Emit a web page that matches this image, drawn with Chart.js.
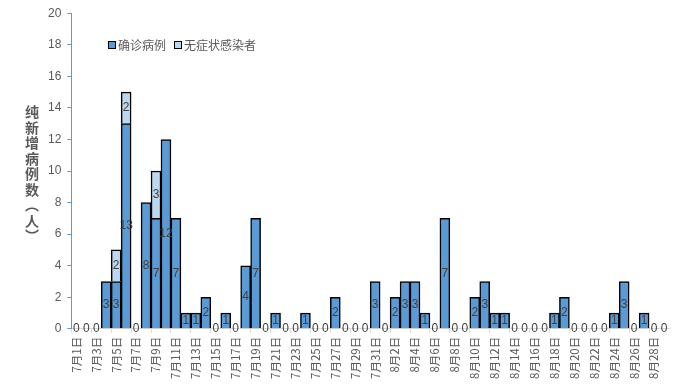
<!DOCTYPE html>
<html>
<head>
<meta charset="utf-8">
<script src="https://cdn.jsdelivr.net/npm/chart.js@4/dist/chart.umd.min.js"></script>
<style>
  body { margin: 0; background: #fff; }
  #wrap { width: 685px; height: 390px; position: relative; }
</style>
</head>
<body>
<div id="wrap"><canvas id="myChart"></canvas></div>
<script>
// 日期 7月1日 - 8月29日
const dias = [];
for (let d = 1; d <= 31; d++) dias.push('7月' + d + '日');
for (let d = 1; d <= 29; d++) dias.push('8月' + d + '日');

const confirmados = [
    0, 0, 0, 3, 3, 13, 0, 8, 7, 12,
    7, 1, 1, 2, 0, 1, 0, 4, 7, 0,
    1, 0, 0, 1, 0, 0, 2, 0, 0, 0,
    3,
    0, 2, 3, 3, 1, 0, 7, 0, 0, 2,
    3, 1, 1, 0, 0, 0, 0, 1, 2, 0,
    0, 0, 0, 1, 3, 0, 1, 0, 0
];
const assintomaticos = [
    0, 0, 0, 0, 2, 2, 0, 0, 3, 0,
    0, 0, 0, 0, 0, 0, 0, 0, 0, 0,
    0, 0, 0, 0, 0, 0, 0, 0, 0, 0,
    0,
    0, 0, 0, 0, 0, 0, 0, 0, 0, 0,
    0, 0, 0, 0, 0, 0, 0, 0, 0, 0,
    0, 0, 0, 0, 0, 0, 0, 0, 0, 0
];
const nomesSeries = ['确诊病例', '无症状感染者'];
const coresSeries = ['#5B9BD5', '#BDD7EE'];
const tituloY = ['纯', '新', '增', '病', '例', '数', '︵', '人', '︶'];

const fonteNum = '"Liberation Sans", "Noto Sans", sans-serif';
const fonteCJK = '"Noto Sans CJK SC", sans-serif';

// rótulos dentro das barras
const rotulos = {
    id: 'rotulos',
    afterDatasetsDraw(chart) {
        const ctx = chart.ctx;
        ctx.save();
        ctx.font = '12px ' + fonteNum;
        ctx.fillStyle = '#404040';
        ctx.textAlign = 'center';
        ctx.textBaseline = 'middle';
        chart.data.datasets.forEach((ds, i) => {
            const meta = chart.getDatasetMeta(i);
            meta.data.forEach((bar, j) => {
                const v = ds.data[j];
                if (i === 1 && v === 0) return;
                const y = (bar.y + bar.base) / 2;
                ctx.fillText(String(v), bar.x, y);
            });
        });
        ctx.restore();
    }
};

// legenda dentro da área e título vertical
const extras = {
    id: 'extras',
    afterDraw(chart) {
        const ctx = chart.ctx;
        ctx.save();
        ctx.font = '12px ' + fonteCJK;
        ctx.textBaseline = 'middle';
        let x = 108;
        const y = 45;
        nomesSeries.forEach((nome, i) => {
            ctx.fillStyle = coresSeries[i];
            ctx.fillRect(x, y - 4, 8, 8);
            ctx.strokeStyle = '#000';
            ctx.lineWidth = 1;
            ctx.strokeRect(x + 0.5, y - 3.5, 7, 7);
            ctx.fillStyle = '#595959';
            ctx.textAlign = 'left';
            ctx.fillText(nome, x + 10, y);
            x += 10 + ctx.measureText(nome).width + 8;
        });

        ctx.font = 'bold 14px ' + fonteCJK;
        ctx.fillStyle = '#595959';
        ctx.textAlign = 'center';
        tituloY.forEach((c, k) => {
            ctx.fillText(c, 32, 112 + k * 15.5);
        });
        ctx.restore();
    }
};

new Chart('myChart', {
    type: 'bar',
    data: {
        labels: dias,
        datasets: [{
            label: nomesSeries[0],
            data: confirmados,
            backgroundColor: coresSeries[0],
            borderColor: '#000',
            borderWidth: 1.5,
            categoryPercentage: 1,
            barPercentage: 1
        }, {
            label: nomesSeries[1],
            data: assintomaticos,
            backgroundColor: coresSeries[1],
            borderColor: '#000',
            borderWidth: 1.5,
            categoryPercentage: 1,
            barPercentage: 1
        }]
    },
    options: {
        responsive: true,
        maintainAspectRatio: false,
        animation: false,
        layout: { padding: { left: 42, right: 16, top: 10, bottom: 7 } },
        plugins: {
            legend: { display: false },
            tooltip: { enabled: false }
        },
        scales: {
            x: {
                stacked: true,
                grid: {
                    offset: true,
                    drawOnChartArea: false,
                    tickLength: 4,
                    color: ctx => (ctx.index % 2 === 0 ? '#d9d9d9' : 'rgba(0,0,0,0)')
                },
                border: { color: '#d9d9d9' },
                ticks: {
                    autoSkip: false,
                    minRotation: 90,
                    maxRotation: 90,
                    padding: 4,
                    color: '#595959',
                    font: { size: 11.5, family: fonteCJK },
                    callback: function (v, i) { return i % 2 === 0 ? this.getLabelForValue(v) : ''; }
                }
            },
            y: {
                stacked: true,
                min: 0,
                max: 20,
                ticks: {
                    stepSize: 2,
                    color: '#595959',
                    padding: 6,
                    font: { size: 12, family: fonteNum }
                },
                grid: {
                    drawOnChartArea: false,
                    tickLength: 4,
                    color: '#5B9BD5'
                },
                border: { color: '#5B9BD5' }
            }
        }
    },
    plugins: [rotulos, extras]
});
</script>
</body>
</html>
